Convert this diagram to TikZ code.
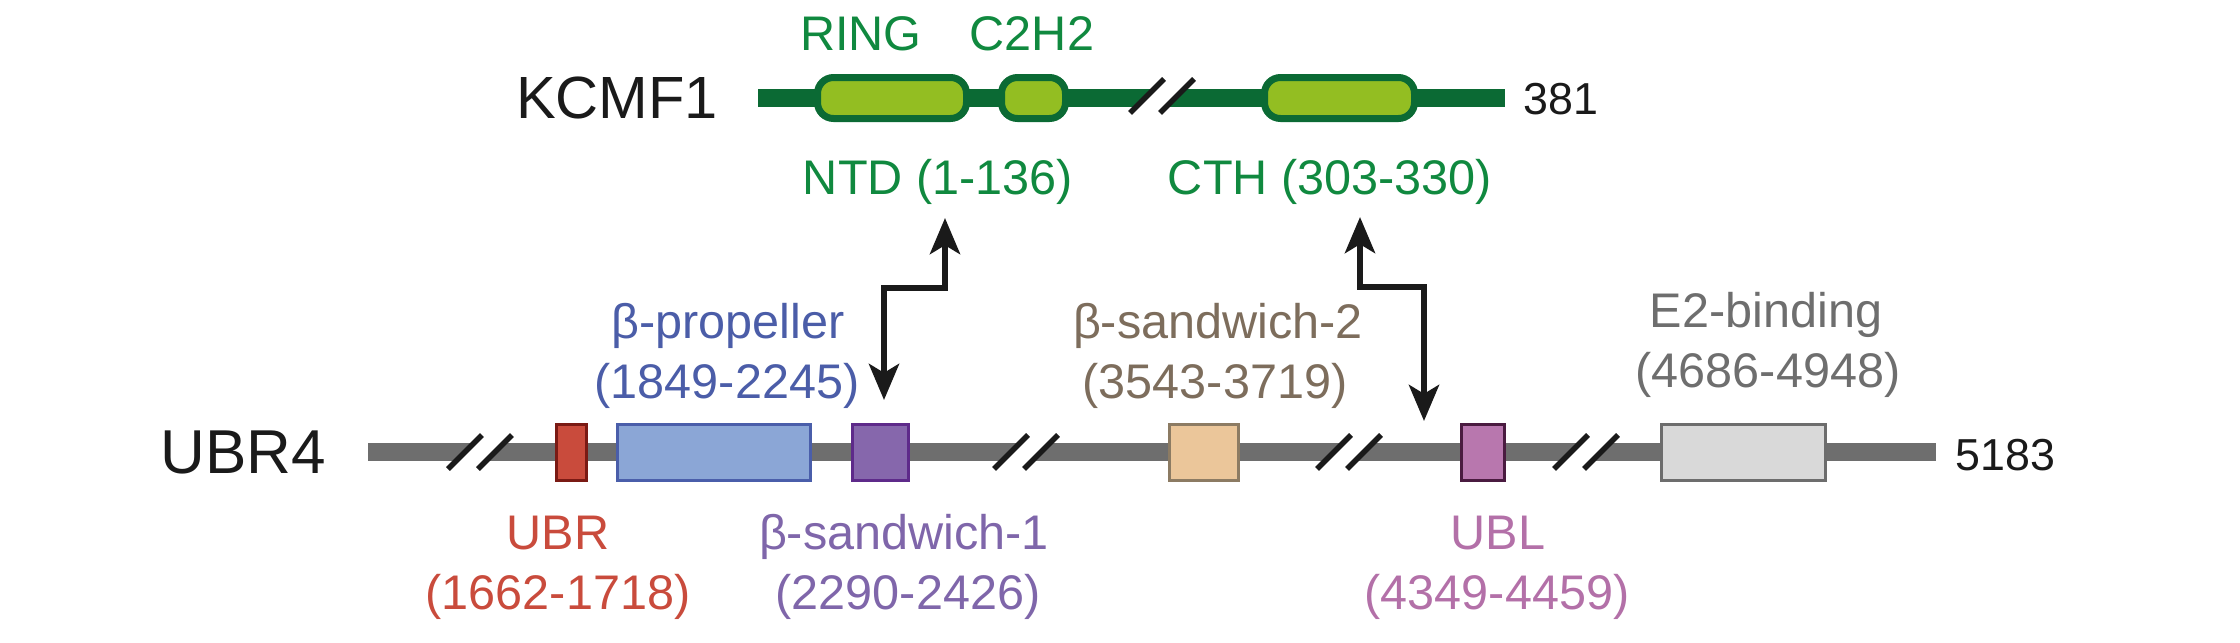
\documentclass[tikz,border=0pt]{standalone}
\usepackage{fontspec}
\setmainfont{Liberation Sans}
\usetikzlibrary{arrows.meta}
\definecolor{kdark}{HTML}{0B6A34}
\definecolor{klight}{HTML}{93BE22}
\definecolor{kgreen}{HTML}{10893F}
\definecolor{ugray}{HTML}{6E6E6E}
\definecolor{ubrfill}{HTML}{C94B3C}
\definecolor{ubrdraw}{HTML}{7A1A14}
\definecolor{ubrtext}{HTML}{C94B3C}
\definecolor{propfill}{HTML}{8BA6D6}
\definecolor{propdraw}{HTML}{4A5EAA}
\definecolor{proptext}{HTML}{4B5DA8}
\definecolor{swafill}{HTML}{8667AC}
\definecolor{swadraw}{HTML}{5E2A8A}
\definecolor{swatext}{HTML}{7F66AA}
\definecolor{swbfill}{HTML}{EBC69A}
\definecolor{swbdraw}{HTML}{8C7B63}
\definecolor{swbtext}{HTML}{7D6D5C}
\definecolor{ublfill}{HTML}{B877AE}
\definecolor{ubldraw}{HTML}{4A1B40}
\definecolor{ubltext}{HTML}{B370A8}
\definecolor{etfill}{HTML}{D9D9D9}
\definecolor{etdraw}{HTML}{6D6D6D}
\definecolor{ettext}{HTML}{6E6E6E}
\definecolor{ink}{HTML}{1A1A1A}
\newcommand{\cutmark}[2]{%
  \fill[white] (#1,#2+17) -- ++(34,-34) -- ++(30,0) -- ++(-34,34) -- cycle;
  \draw[slashline] (#1,#2+17) -- ++(34,-34);
  \draw[slashline] (#1+30,#2+17) -- ++(34,-34);}
\tikzset{
  slashline/.style={draw=ink, line width=1.35pt},
  kline/.style={draw=kdark, line width=4.5pt},
  uline/.style={draw=ugray, line width=4.5pt},
  kbox/.style={draw=kdark, fill=klight, line width=1.75pt, rounded corners=4pt,
    minimum height=10.25pt, inner sep=0pt},
  ubox/.style={line width=0.75pt, minimum height=14pt, inner sep=0pt},
  lbl/.style={inner sep=0pt, anchor=base, font=\fontsize{12.15}{14}\selectfont},
  big/.style={inner sep=0pt, anchor=base, font=\fontsize{15}{18}\selectfont, text=ink},
  num/.style={inner sep=0pt, anchor=base west, font=\fontsize{11.2}{13}\selectfont, text=ink},
  conn/.style={draw=ink, line width=1.55pt,
    {Stealth[length=9pt,width=7.5pt,inset=2.2pt]}-{Stealth[length=9pt,width=7.5pt,inset=2.2pt]}}
}
\begin{document}
\begin{tikzpicture}[x=0.25pt,y=-0.25pt]
\useasboundingbox (0,0) rectangle (2240,643);
% ---------------- KCMF1 ----------------
\node[big, font=\fontsize{14.9}{18}\selectfont] (kname) at (617,118) {KCMF1};
\coordinate (ks) at (758,98);
\coordinate (ke) at (1505,98);
\draw[kline] (ks) -- (ke);
\cutmark{1130}{96}
\node[kbox, minimum width=37.25pt] (ring) at (892,98) {};
\node[kbox, minimum width=16pt] (c2h2) at (1033.5,98) {};
\node[kbox, minimum width=37.5pt] (cth) at (1339.5,98) {};
\node[num] (klen) at (1523,114) {381};
\node[lbl, text=kgreen] (ringl) at (861,50) {RING};
\node[lbl, text=kgreen] (c2h2l) at (1032,50) {C2H2};
\node[lbl, text=kgreen] (ntdl) at (938,194) {NTD (1-136)};
\node[lbl, text=kgreen] (cthl) at (1330,194) {CTH (303-330)};
% ---------------- UBR4 ----------------
\node[big, font=\fontsize{15.5}{18}\selectfont] (uname) at (243.5,473) {UBR4};
\coordinate (us) at (368,452);
\coordinate (ue) at (1936,452);
\draw[uline] (us) -- (ue);
\cutmark{448}{452}
\cutmark{994}{452}
\cutmark{1317}{452}
\cutmark{1554}{452}
\node[ubox, draw=ubrdraw, fill=ubrfill, minimum width=7.5pt] (ubr) at (571.5,452.5) {};
\node[ubox, draw=propdraw, fill=propfill, minimum width=48.25pt] (prop) at (714,452.5) {};
\node[ubox, draw=swadraw, fill=swafill, minimum width=14pt] (swa) at (880.5,452.5) {};
\node[ubox, draw=swbdraw, fill=swbfill, minimum width=17.25pt] (swb) at (1204,452.5) {};
\node[ubox, draw=ubldraw, fill=ublfill, minimum width=10.75pt] (ubl) at (1483,452.5) {};
\node[ubox, draw=etdraw, fill=etfill, minimum width=41pt] (etb) at (1743.5,452.5) {};
\node[num] (ulen) at (1955,470) {5183};
% labels
\node[lbl, text=proptext] (propl) at (728,338) {β-propeller};
\node[lbl, text=proptext] (propn) at (727,398) {(1849-2245)};
\node[lbl, text=swbtext] (swbl) at (1218,338) {β-sandwich-2};
\node[lbl, text=swbtext] (swbn) at (1215,398) {(3543-3719)};
\node[lbl, text=ettext] (etl) at (1766,327) {E2-binding};
\node[lbl, text=ettext] (etn) at (1768,387) {(4686-4948)};
\node[lbl, text=ubrtext] (ubrl) at (558,549) {UBR};
\node[lbl, text=ubrtext] (ubrn) at (558,609) {(1662-1718)};
\node[lbl, text=swatext] (swal) at (904,549) {β-sandwich-1};
\node[lbl, text=swatext] (swan) at (908,609) {(2290-2426)};
\node[lbl, text=ubltext] (ubll) at (1498,549) {UBL};
\node[lbl, text=ubltext] (ubln) at (1497,609) {(4349-4459)};
% ---------------- connectors ----------------
\coordinate (a1t) at (945,218);
\coordinate (a1b) at (884,400);
\draw[conn] (a1t) -- ++(0,70) -| (a1b);
\coordinate (a2t) at (1360,217);
\coordinate (a2b) at (1424,421);
\draw[conn] (a2t) -- ++(0,70) -| (a2b);
\end{tikzpicture}
\end{document}
